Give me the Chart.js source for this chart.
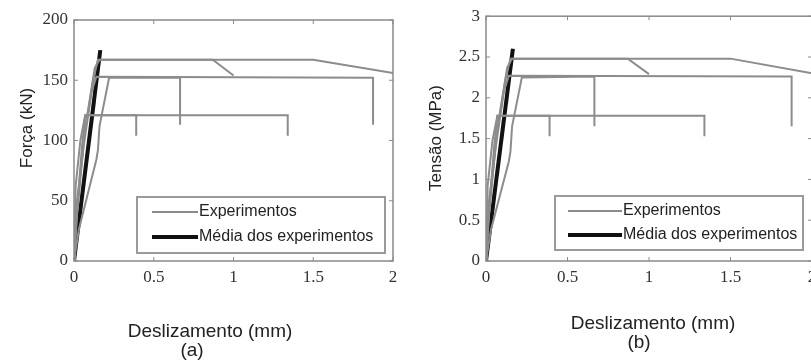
<!DOCTYPE html>
<html lang="pt">
<head>
<meta charset="UTF-8">
<title>Força e tensão x deslizamento</title>
<script src="https://cdn.jsdelivr.net/npm/chart.js"></script>
<style>
  html, body {
    margin: 0;
    padding: 0;
    width: 811px;
    height: 360px;
    overflow: hidden;
    background: #fff;
  }
  #panelA { position: absolute; left: 0; top: 0; }
  #panelB { position: absolute; left: 405px; top: 0; }
</style>
</head>
<body>
<canvas id="panelA" width="405" height="360"></canvas>
<canvas id="panelB" width="420" height="360"></canvas>

<script>
// slip (mm), force (kN) and stress (MPa) for each push-out test
const exp1Slip   = [0, 0.01, 0.06, 0.12, 0.15, 1.5, 2.0];
const exp1Force  = [0, 30, 100, 150, 167, 167, 156];
const exp1Stress = [0, 0.45, 1.48, 2.23, 2.48, 2.48, 2.30];

const exp2Slip   = [0, 0.02, 0.07, 0.13, 0.16, 0.87, 1.0];
const exp2Force  = [0, 40, 110, 160, 167, 167, 154];
const exp2Stress = [0, 0.6, 1.63, 2.37, 2.48, 2.48, 2.29];

const exp3Slip   = [0, 0.03, 0.14, 0.15, 0.16, 0.22, 0.665, 0.665];
const exp3Force  = [0, 26, 84, 92, 112, 152, 152, 113];
const exp3Stress = [0, 0.38, 1.22, 1.34, 1.65, 2.25, 2.26, 1.65];

const exp4Slip   = [0, 0.01, 0.06, 0.11, 0.14, 1.875, 1.875];
const exp4Force  = [0, 40, 95, 140, 153, 152, 113];
const exp4Stress = [0, 0.6, 1.4, 2.08, 2.27, 2.26, 1.65];

const exp5Slip   = [0, 0.02, 0.05, 0.07, 0.39, 0.39];
const exp5Force  = [0, 45, 95, 121, 121, 104];
const exp5Stress = [0, 0.67, 1.4, 1.78, 1.78, 1.53];

const exp6Slip   = [0, 0.005, 0.01, 0.04, 0.07, 1.34, 1.34];
const exp6Force  = [0, 20, 62, 100, 121, 121, 104];
const exp6Stress = [0, 0.3, 0.92, 1.48, 1.78, 1.78, 1.53];

const meanSlip   = [0, 0.165];
const meanForce  = [0, 175];
const meanStress = [0, 2.6];

const xTicksStep = 0.5;
const legendLabels = ['Experimentos', 'Média dos experimentos'];

const experiments = [
  { slip: exp1Slip, force: exp1Force, stress: exp1Stress },
  { slip: exp2Slip, force: exp2Force, stress: exp2Stress },
  { slip: exp3Slip, force: exp3Force, stress: exp3Stress },
  { slip: exp4Slip, force: exp4Force, stress: exp4Stress },
  { slip: exp5Slip, force: exp5Force, stress: exp5Stress },
  { slip: exp6Slip, force: exp6Force, stress: exp6Stress }
];
const mean = { slip: meanSlip, force: meanForce, stress: meanStress };

const GREY = '#8c8c8c';
const FRAME = '#8a8a8a';
const TEXT = '#222';

function toPoints(run, key) {
  return run.slip.map((s, i) => ({ x: s, y: run[key][i] }));
}

function buildDatasets(key) {
  const sets = experiments.map(run => ({
    data: toPoints(run, key),
    borderColor: GREY,
    borderWidth: 2,
    showLine: true,
    pointRadius: 0,
    fill: false,
    tension: 0
  }));
  sets.push({
    data: toPoints(mean, key),
    borderColor: '#111',
    borderWidth: 4,
    showLine: true,
    pointRadius: 0,
    fill: false,
    tension: 0
  });
  return sets;
}

// box around the axes, MATLAB style inward ticks, legend and captions
const framePlugin = {
  id: 'frame',
  afterDatasetsDraw(chart, args, o) {
    const { ctx, chartArea: a } = chart;
    const xs = chart.scales.x, ys = chart.scales.y;
    ctx.save();

    ctx.strokeStyle = FRAME;
    ctx.lineWidth = 1.5;
    ctx.strokeRect(a.left, a.top, a.right - a.left, a.bottom - a.top);

    ctx.lineWidth = 1;
    ctx.beginPath();
    xs.ticks.forEach(t => {
      const px = xs.getPixelForValue(t.value);
      ctx.moveTo(px, a.bottom); ctx.lineTo(px, a.bottom - 4);
      ctx.moveTo(px, a.top);    ctx.lineTo(px, a.top + 4);
    });
    ys.ticks.forEach(t => {
      const py = ys.getPixelForValue(t.value);
      ctx.moveTo(a.left, py);  ctx.lineTo(a.left + 4, py);
      ctx.moveTo(a.right, py); ctx.lineTo(a.right - 4, py);
    });
    ctx.stroke();

    // legend box
    const L = o.legend;
    ctx.fillStyle = '#fff';
    ctx.fillRect(L.x, L.y, L.w, L.h);
    ctx.strokeStyle = '#9a9a9a';
    ctx.lineWidth = 2;
    ctx.strokeRect(L.x, L.y, L.w, L.h);

    ctx.lineWidth = 2;
    ctx.strokeStyle = GREY;
    ctx.beginPath();
    ctx.moveTo(L.sx, L.row1); ctx.lineTo(L.sx + L.sw, L.row1);
    ctx.stroke();
    ctx.lineWidth = 4;
    ctx.strokeStyle = '#111';
    ctx.beginPath();
    ctx.moveTo(L.sx, L.row2); ctx.lineTo(L.sx + L.sw, L.row2);
    ctx.stroke();

    ctx.fillStyle = TEXT;
    ctx.font = '16px "Liberation Sans", Arial, sans-serif';
    ctx.textAlign = 'left';
    ctx.textBaseline = 'middle';
    ctx.fillText(legendLabels[0], L.sx + L.sw + 1, L.row1);
    ctx.fillText(legendLabels[1], L.sx + L.sw + 1, L.row2);

    // axis titles and panel tag
    ctx.textAlign = 'center';
    ctx.font = '19px "Liberation Sans", Arial, sans-serif';
    ctx.fillText(o.xTitle.text, o.xTitle.x, o.xTitle.y);
    ctx.fillText(o.tag.text, o.tag.x, o.tag.y);

    ctx.font = '17px "Liberation Sans", Arial, sans-serif';
    ctx.translate(o.yTitle.x, o.yTitle.y);
    ctx.rotate(-Math.PI / 2);
    ctx.fillText(o.yTitle.text, 0, 0);

    ctx.restore();
  }
};

function makeChart(id, key, yMax, yStep, yWidth, padTop, padRight, frameOpts) {
  const tickFont = { family: '"Liberation Serif", "Times New Roman", serif', size: 17 };
  const plain = v => String(v);
  return new Chart(document.getElementById(id), {
    type: 'scatter',
    data: { datasets: buildDatasets(key) },
    plugins: [framePlugin],
    options: {
      responsive: false,
      animation: false,
      layout: { padding: { top: padTop, right: padRight, left: 0, bottom: 0 } },
      plugins: {
        legend: { display: false },
        tooltip: { enabled: false },
        frame: frameOpts
      },
      scales: {
        x: {
          type: 'linear',
          min: 0,
          max: 2,
          grid: { display: false, drawTicks: false },
          border: { display: false },
          ticks: { stepSize: xTicksStep, padding: 6, color: '#333', font: tickFont, maxRotation: 0, autoSkip: false, callback: plain },
          afterFit: s => { s.height = 99; }
        },
        y: {
          type: 'linear',
          min: 0,
          max: yMax,
          grid: { display: false, drawTicks: false },
          border: { display: false },
          ticks: { stepSize: yStep, padding: 6, color: '#333', font: tickFont, autoSkip: false, callback: plain },
          afterFit: s => { s.width = yWidth; }
        }
      }
    }
  });
}

makeChart('panelA', 'force', 200, 50, 74, 20, 12, {
  legend: { x: 137, y: 197, w: 248, h: 56, sx: 152, sw: 46, row1: 212, row2: 237 },
  yTitle: { text: 'Força (kN)', x: 27, y: 128 },
  xTitle: { text: 'Deslizamento (mm)', x: 210, y: 332 },
  tag: { text: '(a)', x: 192, y: 351 }
});

makeChart('panelB', 'stress', 3, 0.5, 81, 16, 13, {
  legend: { x: 150, y: 196, w: 248, h: 54, sx: 163, sw: 54, row1: 211, row2: 235 },
  yTitle: { text: 'Tensão (MPa)', x: 31, y: 138 },
  xTitle: { text: 'Deslizamento (mm)', x: 248, y: 324 },
  tag: { text: '(b)', x: 234, y: 343 }
});
</script>
</body>
</html>
